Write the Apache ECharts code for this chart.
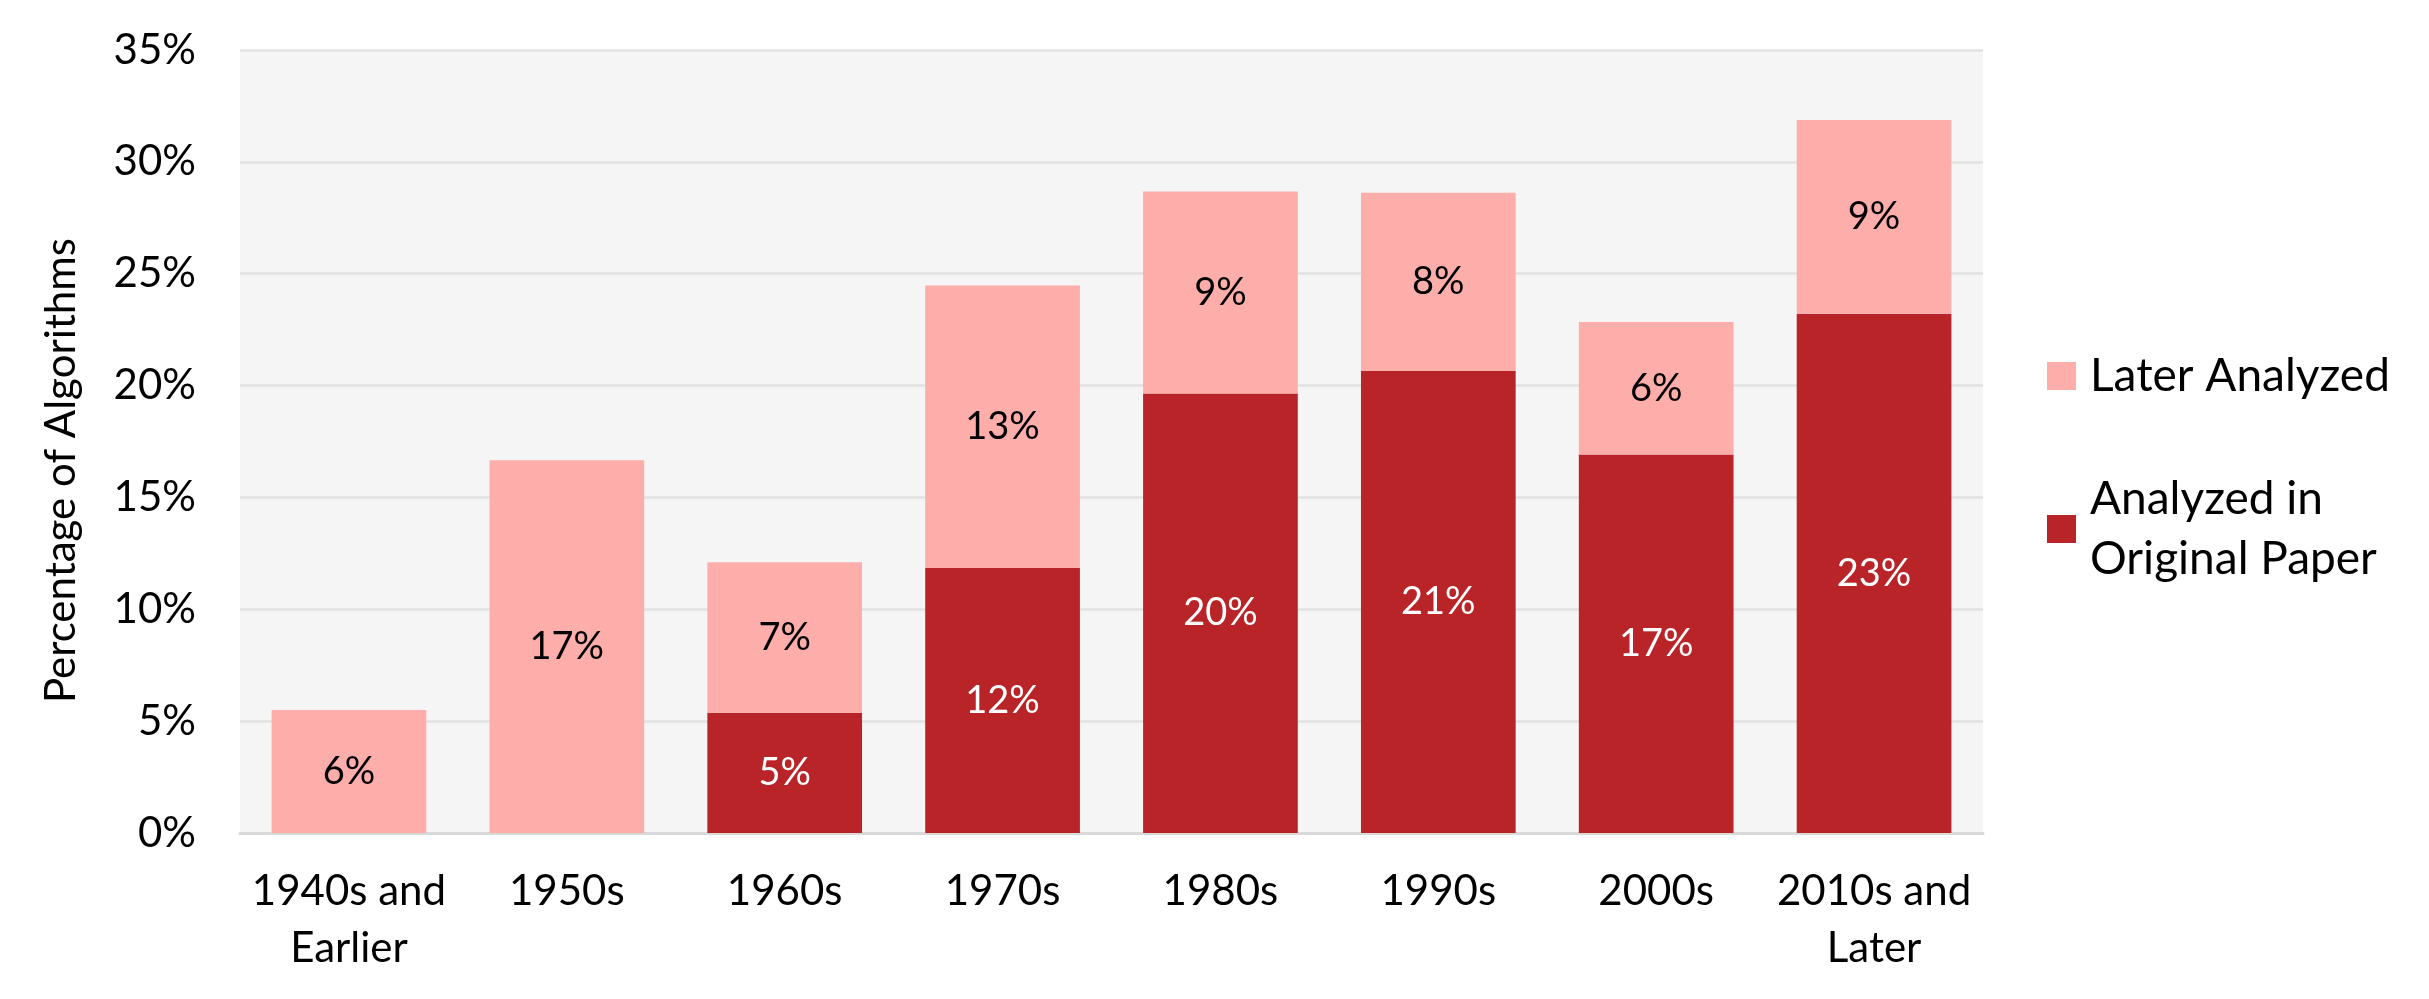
<!DOCTYPE html>
<html>
<head>
<meta charset="utf-8">
<script src="https://cdn.jsdelivr.net/npm/echarts@6/dist/echarts.min.js"></script>
<style>
html,body{margin:0;padding:0;background:#fff;}
#c{width:2429px;height:999px;}
</style>
</head>
<body>
<div id="c"></div>
<script>
var categories = ['1940s and\nEarlier', '1950s', '1960s', '1970s', '1980s', '1990s', '2000s', '2010s and\nLater'];
var analyzedOriginal = [0, 0, 5.38, 11.85, 19.65, 20.65, 16.92, 23.21];
var laterAnalyzed = [5.5, 16.66, 6.72, 12.62, 9.03, 7.97, 5.92, 8.66];
var yTicks = [0, 5, 10, 15, 20, 25, 30, 35];

var FONT = 'Lato, "Open Sans", sans-serif';
var chart = echarts.init(document.getElementById('c'), null, {renderer: 'canvas'});

function pct(p) {
  var v = p.value;
  if (!v) return '';
  return Math.round(v) + '%';
}

chart.setOption({
  animation: false,
  textStyle: {fontFamily: FONT},
  grid: {
    left: 240, right: 446, top: 50, bottom: 166,
    show: true, backgroundColor: '#F5F5F5', borderWidth: 0
  },
  legend: {
    orient: 'vertical',
    left: 2047,
    top: 346,
    padding: 0,
    itemGap: 33,
    itemWidth: 29,
    itemHeight: 28,
    icon: 'rect',
    textStyle: {fontFamily: FONT, fontSize: 46, color: '#000', lineHeight: 60},
    formatter: function (name) {
      return name === 'Analyzed in Original Paper' ? 'Analyzed in\nOriginal Paper' : name;
    },
    data: [
      {name: 'Later Analyzed', textStyle: {padding: [0, 0, 0, 9]}},
      {name: 'Analyzed in Original Paper', textStyle: {padding: [60, 0, 0, 9]}}
    ]
  },
  xAxis: {
    type: 'category',
    data: categories,
    axisTick: {show: false},
    axisLine: {show: true, lineStyle: {color: '#D9D9D9', width: 3}},
    axisLabel: {
      fontFamily: FONT, fontSize: 42, color: '#000', lineHeight: 57,
      margin: 30, interval: 0
    }
  },
  yAxis: {
    type: 'value',
    min: yTicks[0],
    max: yTicks[yTicks.length - 1],
    interval: 5,
    name: 'Percentage of Algorithms',
    nameLocation: 'middle',
    nameGap: 158,
    nameTextStyle: {fontFamily: FONT, fontSize: 42, color: '#000', padding: [0, 58, 0, 0]},
    axisLine: {show: false},
    axisTick: {show: false},
    splitLine: {show: true, lineStyle: {color: '#E2E2E2', width: 2.5}},
    axisLabel: {
      fontFamily: FONT, fontSize: 42, color: '#000', margin: 44,
      formatter: '{value}%'
    }
  },
  series: [
    {
      name: 'Analyzed in Original Paper',
      type: 'bar',
      stack: 'total',
      data: analyzedOriginal,
      barCategoryGap: '29%',
      itemStyle: {color: '#B82427'},
      label: {
        show: true, position: 'inside', color: '#fff',
        fontFamily: FONT, fontSize: 38, formatter: pct
      }
    },
    {
      name: 'Later Analyzed',
      type: 'bar',
      stack: 'total',
      data: laterAnalyzed,
      barCategoryGap: '29%',
      itemStyle: {color: '#FDADAA'},
      label: {
        show: true, position: 'inside', color: '#000',
        fontFamily: FONT, fontSize: 38, formatter: pct
      }
    }
  ]
});
</script>
</body>
</html>
